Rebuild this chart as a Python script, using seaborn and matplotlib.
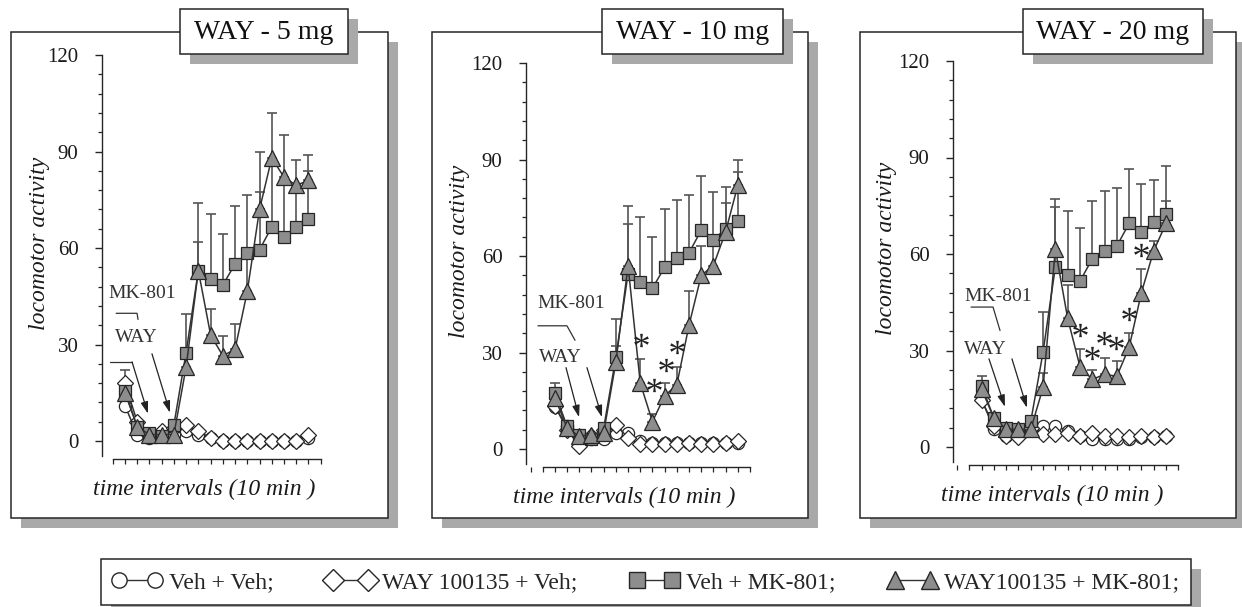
import numpy as np
import pandas as pd
import matplotlib
matplotlib.use("Agg")
import matplotlib.pyplot as plt
import seaborn as sns
from matplotlib.patches import Rectangle
from matplotlib.lines import Line2D
from matplotlib.ticker import MultipleLocator, FixedLocator, NullFormatter
from matplotlib.textpath import TextPath
from matplotlib.font_manager import FontProperties
from matplotlib.path import Path

# ---------------- data ----------------
intervals = list(range(1, 17))
panel_titles = ["WAY - 5 mg", "WAY - 10 mg", "WAY - 20 mg"]
series_labels = ["Veh + Veh;", "WAY 100135 + Veh;", "Veh + MK-801;", "WAY100135 + MK-801;"]
y_ticks = [0, 30, 60, 90, 120]

# WAY 5 mg
vv5 = [11, 2, 1, 1.5, 2, 3, 2, 1, 0, 0, 0, 0, 0, 0, 0, 1]
wv5 = [18, 6, 2, 3, 4, 5, 3, 1, 0, 0, 0, 0, 0, 0, 0, 2]
vm5 = [15.5, 4.5, 2.5, 1.5, 5, 27.5, 53, 50.5, 48.5, 55, 58.5, 59.5, 66.5, 63.5, 66.5, 69]
wm5 = [15, 4.5, 2, 2, 2, 23, 53, 33, 26.5, 28.5, 46.5, 72, 88, 82, 79.5, 81]
vv5_sem = [1, 0, 0, 0, 0, 0, 0, 0, 0, 0, 0, 0, 0, 0, 0, 0]
wv5_sem = [4, 0, 0, 0, 0, 0, 0, 0, 0, 0, 0, 0, 0, 0, 0, 0]
vm5_sem = [2, 0, 0, 0, 1, 12, 21, 20, 16, 18, 18, 18, 20, 16, 12, 15]
wm5_sem = [2, 0, 0, 0, 0, 6, 9, 8, 6, 8, 10, 18, 14, 13, 8, 8]

# WAY 10 mg
vv10 = [13, 7, 4, 3, 3, 5, 5, 2.5, 2, 2, 2, 2, 2, 2, 2, 2]
wv10 = [13.5, 6, 1, 4, 6, 7.5, 3.5, 1.5, 1.5, 1.5, 1.5, 2, 1.5, 1.5, 2, 2.5]
vm10 = [17.5, 7, 4.5, 3, 6.5, 28.5, 54.5, 52, 50, 56.5, 59.5, 61, 68, 65, 68.5, 71]
wm10 = [16, 6.5, 4, 4.5, 5, 27, 57, 20.5, 8.5, 16.5, 20, 38.5, 54, 57, 67.5, 82]
vv10_sem = [0, 0, 0, 0, 0, 0, 0, 0, 0, 0, 0, 0, 0, 0, 0, 0]
wv10_sem = [0, 0, 0, 0, 0, 0, 0, 0, 0, 0, 0, 0, 0, 0, 0, 0]
vm10_sem = [3, 0, 0, 0, 1, 12, 21, 20, 16, 18, 18, 18, 17, 15, 13, 15]
wm10_sem = [2, 0, 0, 0, 0, 5, 13, 7.5, 2.5, 4, 5.5, 10.5, 9, 8, 9, 8]

# WAY 20 mg
vv20 = [15, 5.5, 3.5, 3.5, 5.5, 6.5, 6.5, 5, 3.5, 2.5, 2.5, 2.5, 2.5, 3, 3, 3.5]
wv20 = [14.5, 6.5, 3.5, 3, 6, 4, 4, 4.5, 3.5, 4.5, 3.5, 3.5, 3, 3.5, 3, 3.5]
vm20 = [19, 9, 6, 5.5, 8, 29.5, 56, 53.5, 51.5, 58.5, 61, 62.5, 69.5, 66.8, 70, 72.5]
wm20 = [18, 9, 5.5, 5.5, 5.5, 18.5, 61.5, 40, 25, 21, 22.6, 22, 31, 48, 61, 69.5]
vv20_sem = [0, 0, 0, 0, 0, 0, 0, 0, 0, 0, 0, 0, 0, 0, 0, 0]
wv20_sem = [0, 0, 0, 0, 0, 0, 0, 0, 0, 0, 0, 0, 0, 0, 0, 0]
vm20_sem = [3, 0, 0, 0, 1, 12.5, 21, 20, 16.5, 18, 18.5, 18, 17, 15, 13, 15]
wm20_sem = [2, 0, 0, 0, 0, 4.5, 13, 10.5, 5.5, 3, 5, 4.8, 4.3, 7.4, 3, 7]

# significance asterisks (interval, level)
star10_x = [8.1, 9.1, 10.1, 11.05]
star10_y = [34, 20, 26, 31.7]
star20_x = [9.0, 10.0, 10.95, 11.95, 12.95, 14.0]
star20_y = [36.3, 29.2, 34, 32.3, 41.3, 61.1]

panels = [
    dict(vals=[vv5, wv5, vm5, wm5], sems=[vv5_sem, wv5_sem, vm5_sem, wm5_sem], sx=[], sy=[]),
    dict(vals=[vv10, wv10, vm10, wm10], sems=[vv10_sem, wv10_sem, vm10_sem, wm10_sem], sx=star10_x, sy=star10_y),
    dict(vals=[vv20, wv20, vm20, wm20], sems=[vv20_sem, wv20_sem, vm20_sem, wm20_sem], sx=star20_x, sy=star20_y),
]

# annotation geometry (data coords of each panel)
annots = [
    dict(mk=(-0.38, 45.7), bracket=[(0.28, 39.7), (1.99, 39.7), (2.07, 37.8)], way=(0.19, 32.1),
         arrows=[[(-0.22, 24.6), (1.58, 24.6), (2.88, 8.5)], [(3.21, 27.1), (4.68, 8.8)]]),
    dict(mk=(-0.47, 45.2), bracket=[(-0.39, 38.3), (1.99, 38.3), (2.65, 33.8)], way=(-0.3, 28.5),
         arrows=[[(1.91, 25.3), (2.98, 9.9)], [(3.63, 25.3), (4.86, 9.9)]]),
    dict(mk=(-0.43, 46.8), bracket=[(0.14, 43.5), (1.93, 43.5), (2.5, 36.2)], way=(-0.43, 30.2),
         arrows=[[(1.6, 27.4), (2.9, 12.5)], [(3.47, 27.4), (4.69, 12.2)]]),
]

# ---------------- style ----------------
sns.set_style("white")
plt.rcParams["font.family"] = ["Liberation Serif", "DejaVu Serif"]

W, H = 1242, 607
fig = plt.figure(figsize=(W / 100, H / 100), dpi=100)
fig.patch.set_facecolor("white")

GRAY = "#8d8d8d"
SHADOW = "#a9a9a9"
EDGE = "#262626"
LINE = "#333333"
ERR = "#555555"

def px_rect(x0, y0, x1, y1, **kw):
    r = Rectangle((x0 / W, 1 - y1 / H), (x1 - x0) / W, (y1 - y0) / H,
                  transform=fig.transFigure, **kw)
    fig.add_artist(r)
    return r

frames = [(11, 32, 388, 518), (432, 32, 808, 518), (860, 32, 1236, 518)]
tboxes = [(180, 9, 348, 54), (602, 9, 783, 54), (1023, 9, 1203, 54)]
geom = [
    dict(spine=102, t0=112.7, t17=320.7, y120=55, y0=441, ylab=(40, 243), xlab=(204, 489)),
    dict(spine=526, t0=542.7, t17=750.0, y120=63, y0=449, ylab=(460, 251), xlab=(624, 497)),
    dict(spine=953, t0=969.3, t17=1178.3, y120=61, y0=447, ylab=(886.7, 248), xlab=(1052.5, 495)),
]

for (x0, y0, x1, y1) in frames:
    px_rect(x0 + 10, y0 + 10, x1 + 10, y1 + 10, facecolor=SHADOW, edgecolor="none", zorder=-6)
    px_rect(x0, y0, x1, y1, facecolor="white", edgecolor=EDGE, lw=1.1, zorder=-5)
for (x0, y0, x1, y1), t in zip(tboxes, panel_titles):
    px_rect(x0 + 10, y0 + 10, x1 + 10, y1 + 10, facecolor=SHADOW, edgecolor="none", zorder=-4)
    px_rect(x0, y0, x1, y1, facecolor="white", edgecolor=EDGE, lw=1.1, zorder=-3)
    fig.text((x0 + x1) / 2 / W, 1 - ((y0 + y1) / 2 + 1) / H, t, ha="center", va="center",
             fontsize=20, color="#111111")

# asterisk marker path (centred, ignoring CLOSEPOLY placeholder vertices)
tp = TextPath((0, 0), "*", size=1, prop=FontProperties(family="Liberation Serif"))
verts = tp.vertices.copy()
codes = tp.codes
real = codes != Path.CLOSEPOLY
ctr = (verts[real].min(axis=0) + verts[real].max(axis=0)) / 2
verts = verts - ctr
verts[~real] = 0.0
star_path = Path(verts, codes)

styles = [
    dict(marker="o", ms=8.8, mfc="white"),
    dict(marker="D", ms=7.8, mfc="white"),
    dict(marker="s", ms=9.0, mfc=GRAY),
    dict(marker="^", ms=11.0, mfc=GRAY),
]

YBOT = -5.6
for p, g, an in zip(panels, geom, annots):
    ppx = (g["t17"] - g["t0"]) / 17.0
    ppy = (g["y0"] - g["y120"]) / 120.0
    xl = (g["spine"] - g["t0"]) / ppx
    ybot_px = g["y0"] - YBOT * ppy
    rect = [g["spine"] / W, 1 - ybot_px / H, (g["t17"] - g["spine"]) / W, (ybot_px - g["y120"]) / H]
    ax = fig.add_axes(rect)
    ax.set_facecolor("none")
    ax.set_xlim(xl, 17)
    ax.set_ylim(YBOT, 120)

    for i, (vals, sem, st) in enumerate(zip(p["vals"], p["sems"], styles)):
        z = 2 + i
        sem_arr = np.array(sem, dtype=float)
        ax.errorbar(intervals, vals, yerr=[np.zeros_like(sem_arr), sem_arr], fmt="none",
                    ecolor=ERR, elinewidth=1.2, capsize=3.8, capthick=1.2, zorder=1.5)
        df = pd.DataFrame({"interval": intervals, "activity": vals})
        sns.lineplot(data=df, x="interval", y="activity", ax=ax, color=LINE, lw=1.1,
                     marker=st["marker"], markersize=st["ms"], markerfacecolor=st["mfc"],
                     markeredgecolor=EDGE, markeredgewidth=0.9, errorbar=None, zorder=z)

    if p["sx"]:
        ax.plot(p["sx"], p["sy"], linestyle="none", marker=star_path, markersize=10.5,
                color="#222222", markeredgewidth=0, zorder=8)

    # annotations
    ax.text(an["mk"][0], an["mk"][1], "MK-801", fontsize=14, color="#333333", ha="left", va="center")
    ax.text(an["way"][0], an["way"][1], "WAY", fontsize=14, color="#333333", ha="left", va="center")
    bx, by = zip(*an["bracket"])
    ax.plot(bx, by, color="#333333", lw=0.9, zorder=7)
    for arr in an["arrows"]:
        if len(arr) > 2:
            ax_, ay_ = zip(*arr[:-1])
            ax.plot(ax_, ay_, color="#333333", lw=0.9, zorder=7)
        ax.annotate("", xy=arr[-1], xytext=arr[-2],
                    arrowprops=dict(arrowstyle="-|>,head_width=0.22,head_length=0.7",
                                    color="#222222", lw=0.9, shrinkA=0, shrinkB=0), zorder=7)

    # axes styling
    for s in ["top", "right"]:
        ax.spines[s].set_visible(False)
    ax.spines["left"].set_bounds(-4.6, 120)
    ax.spines["bottom"].set_bounds(0, 17)
    for s in ["left", "bottom"]:
        ax.spines[s].set_color(EDGE)
        ax.spines[s].set_linewidth(1.0)
    ax.yaxis.set_major_locator(FixedLocator(y_ticks))
    ax.yaxis.set_minor_locator(MultipleLocator(6))
    ax.xaxis.set_major_locator(MultipleLocator(1))
    ax.xaxis.set_major_formatter(NullFormatter())
    ax.tick_params(axis="y", which="major", direction="out", length=5, width=1.0, color=EDGE,
                   pad=12, labelsize=15, labelcolor="#1a1a1a", left=True)
    ax.tick_params(axis="y", which="minor", direction="out", length=3, width=0.9, color=EDGE, left=True)
    ax.tick_params(axis="x", which="major", direction="out", length=3.5, width=0.9, color=EDGE, bottom=True)

    ax.set_ylabel("locomotor activity", fontsize=17, style="italic", color="#1a1a1a")
    ax.set_xlabel("time intervals (10 min )", fontsize=17, style="italic", color="#1a1a1a")
    axw = g["t17"] - g["spine"]
    axh = ybot_px - g["y120"]
    ax.yaxis.set_label_coords((g["ylab"][0] - g["spine"]) / axw, (ybot_px - g["ylab"][1]) / axh)
    ax.yaxis.label.set_va("center")
    ax.xaxis.set_label_coords((g["xlab"][0] - g["spine"]) / axw, (ybot_px - g["xlab"][1]) / axh)
    ax.xaxis.label.set_va("center")

# legend
handles = [
    Line2D([], [], color=LINE, lw=1.0, marker="o", markersize=11, mfc="white", mec=EDGE, mew=1.0),
    Line2D([], [], color=LINE, lw=1.0, marker="D", markersize=11.5, mfc="white", mec=EDGE, mew=1.0),
    Line2D([], [], color=LINE, lw=1.0, marker="s", markersize=11, mfc=GRAY, mec=EDGE, mew=1.0),
    Line2D([], [], color=LINE, lw=1.0, marker="^", markersize=13, mfc=GRAY, mec=EDGE, mew=1.0),
]
leg = fig.legend(handles, series_labels, loc="center", bbox_to_anchor=(646 / W, 1 - 582 / H),
                 ncol=4, numpoints=2, frameon=True, fancybox=False, edgecolor=EDGE, framealpha=1,
                 fontsize=17, handlelength=2.1, handletextpad=0.3, columnspacing=2.2, borderpad=0.5)
leg.get_frame().set_linewidth(1.1)
leg.set_zorder(10)
fig.canvas.draw()
bb = leg.get_window_extent()
fig.add_artist(Rectangle((bb.x0 / W + 10 / W, bb.y0 / H - 10 / H), bb.width / W, bb.height / H,
                         transform=fig.transFigure, facecolor=SHADOW, edgecolor="none", zorder=9))

fig.savefig("out.png", dpi=100, facecolor="white")
